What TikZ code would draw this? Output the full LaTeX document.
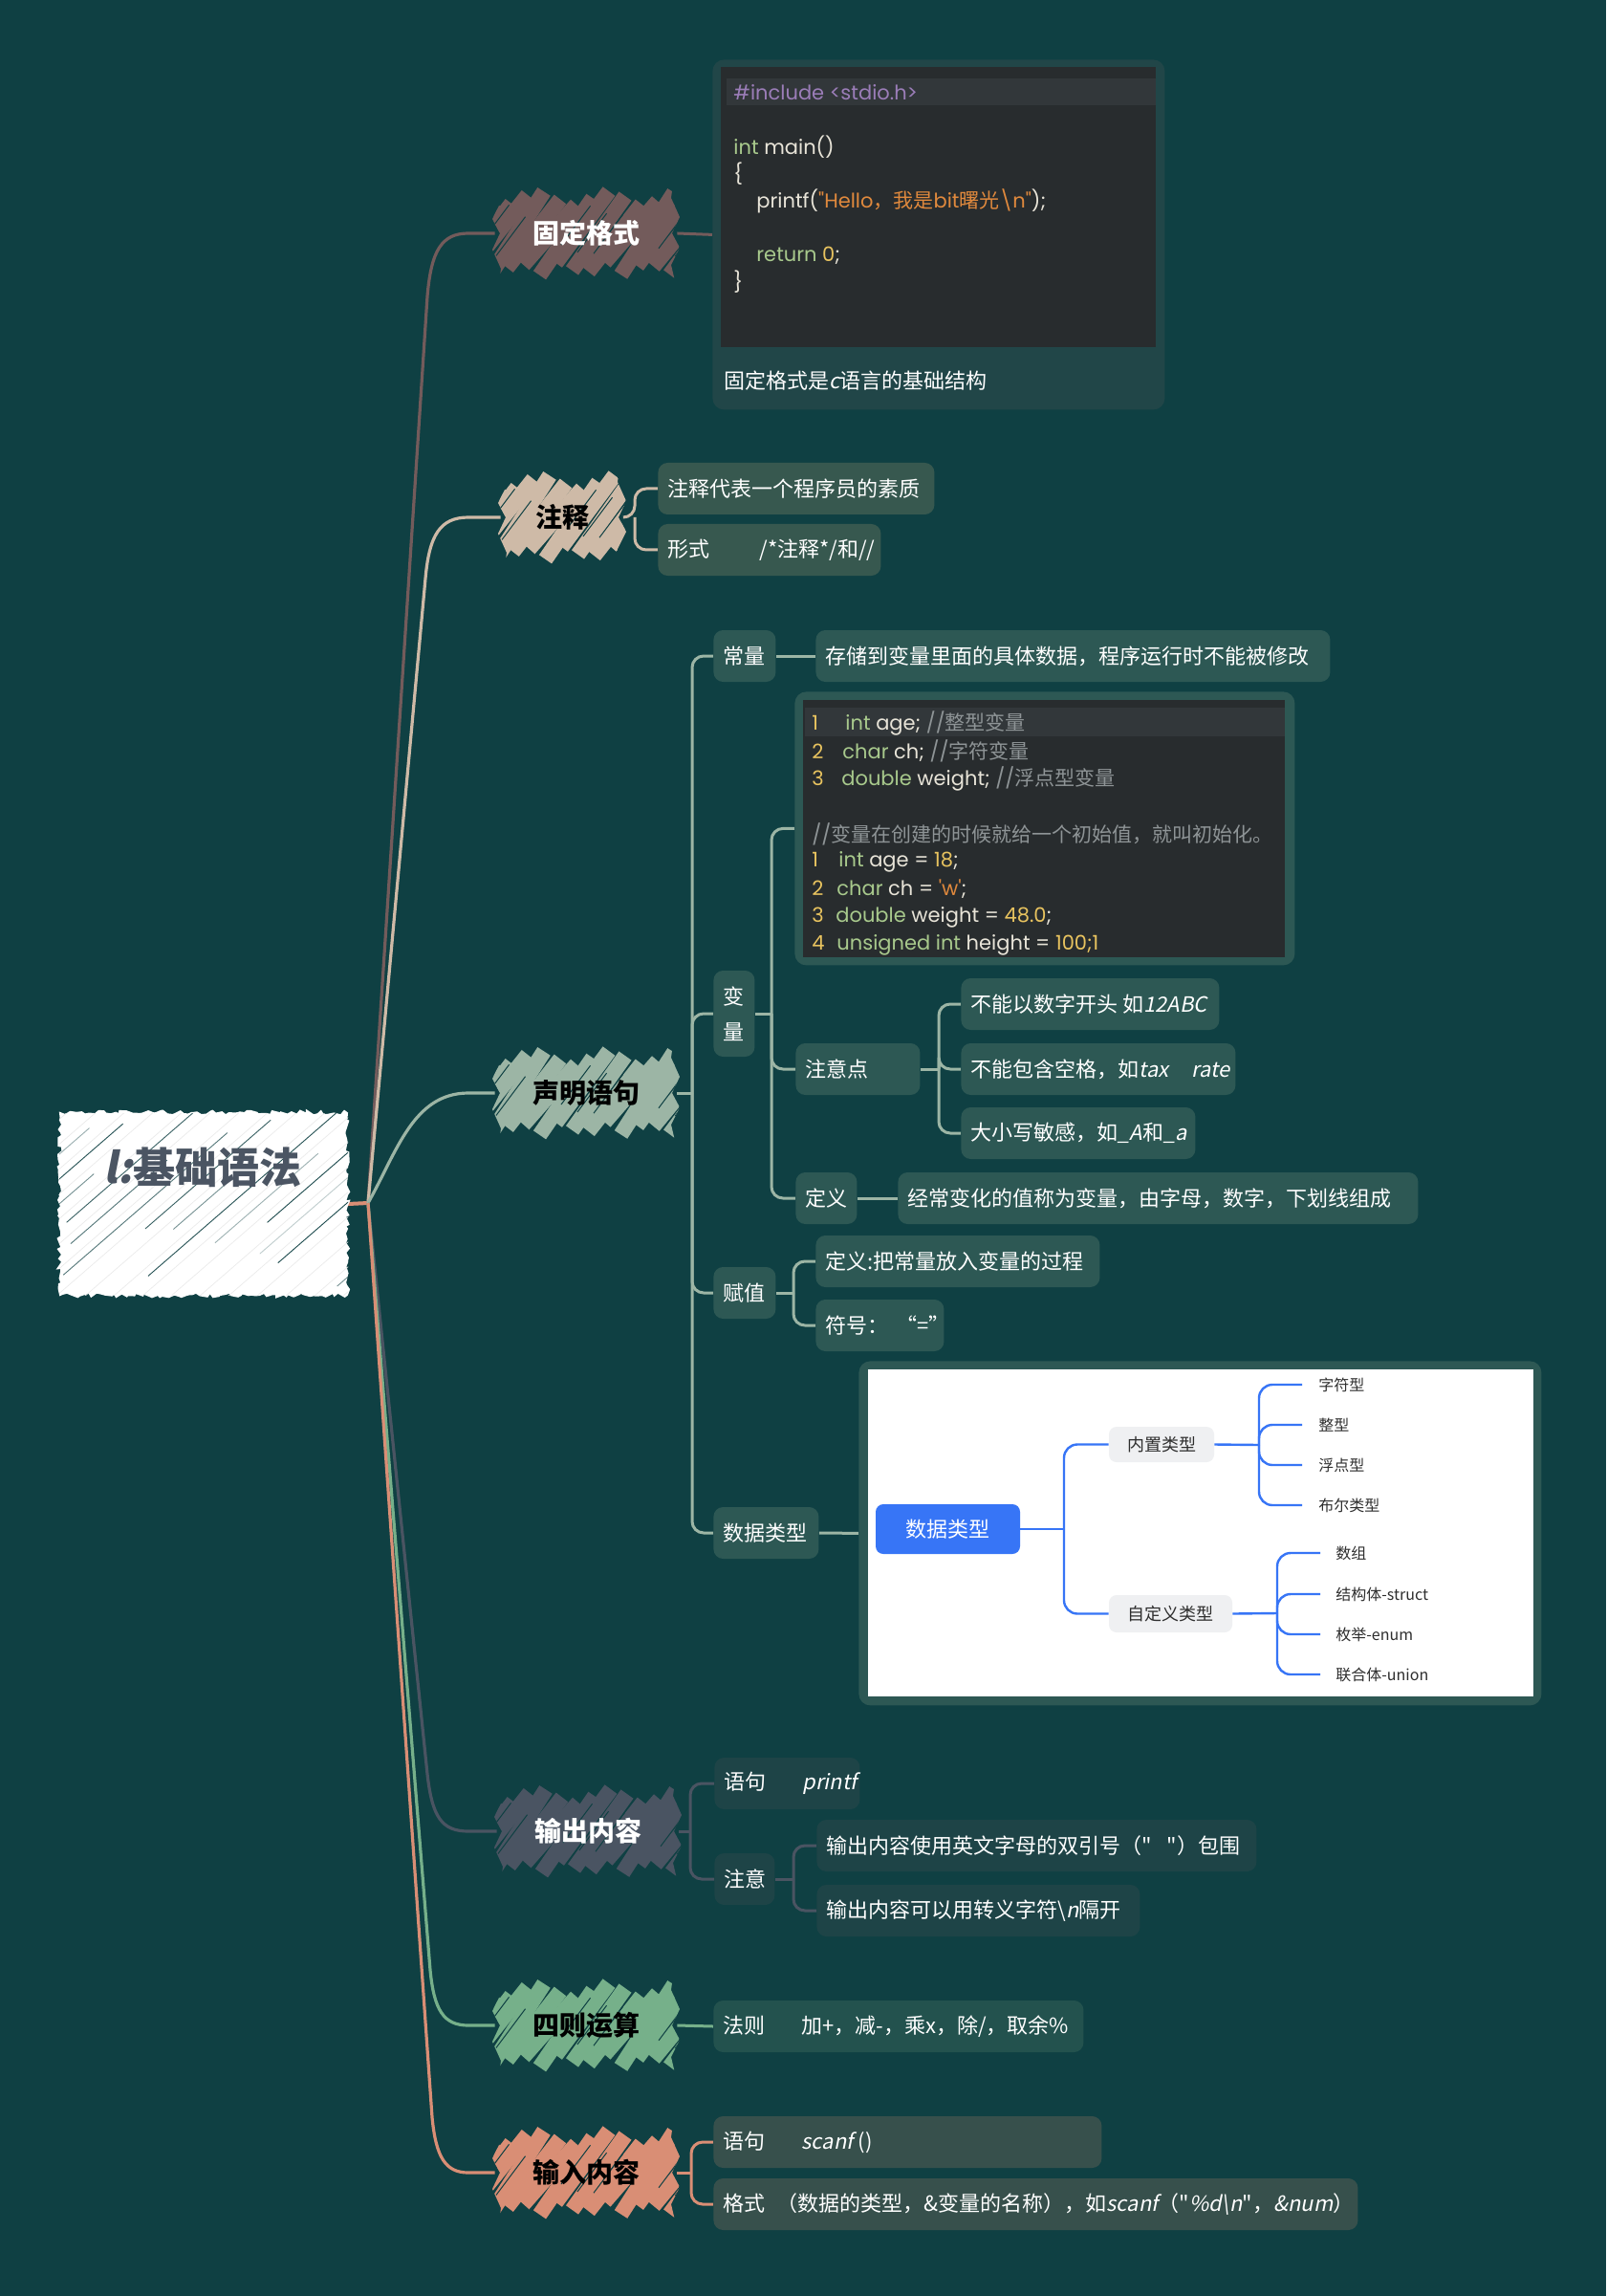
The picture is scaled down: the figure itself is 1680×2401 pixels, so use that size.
\documentclass[tikz,border=0pt]{standalone}
\usepackage{fontspec}
\setmainfont{Noto Sans CJK SC}
\newfontfamily\itfnt[FakeSlant=0.2]{Noto Sans CJK SC}
\newfontfamily\codefnt[Ligatures=TeXOff]{Poppins}
\newfontfamily\cjkfnt{Noto Sans CJK SC}
\newfontfamily\qfnt[Ligatures=TeXOff]{Noto Sans CJK SC}
\usetikzlibrary{decorations.pathmorphing}
\definecolor{bgc}{HTML}{0F4043}
\definecolor{cfix}{HTML}{735B5B}
\definecolor{ccom}{HTML}{CEBAA7}
\definecolor{cdecl}{HTML}{9CB5A5}
\definecolor{cout}{HTML}{4A5462}
\definecolor{carith}{HTML}{76B08A}
\definecolor{cin}{HTML}{D98E75}
\definecolor{bfix}{HTML}{214648}
\definecolor{bcom}{HTML}{37584F}
\definecolor{bdecl}{HTML}{2D5854}
\definecolor{bout}{HTML}{1E4447}
\definecolor{barith}{HTML}{23524E}
\definecolor{bin}{HTML}{37504C}
\definecolor{codebg}{HTML}{282C2E}
\definecolor{codehl}{HTML}{32373A}
\definecolor{cpur}{HTML}{9B7DB8}
\definecolor{cgrn}{HTML}{A8C98C}
\definecolor{cwht}{HTML}{E8E4D8}
\definecolor{cora}{HTML}{E0893D}
\definecolor{cyel}{HTML}{E8C35F}
\definecolor{cgry}{HTML}{8E9496}
\definecolor{cdark}{HTML}{4B5563}
\definecolor{cblue}{HTML}{3775F6}
\definecolor{cgray}{HTML}{EFF0F2}
\definecolor{ctxt}{HTML}{2E2E2E}
\newcommand\padtext[2]{\makebox[#1pt][l]{#2}}
\newcommand\sketchshape[5]{%
\begin{scope}
\clip (#1-#3-2,#2-#4-30) -- (#1-#3+6,#2-#4+4) -- (#1-#3-3,#2-#4+22) -- (#1-#3+5,#2) -- (#1-#3-3,#2+#4-20) -- (#1-#3+6,#2+#4) -- (#1-#3+2,#2+#4+30) -- (#1+#3+2,#2+#4+30) -- (#1+#3-6,#2+#4-4) -- (#1+#3+3,#2+#4-22) -- (#1+#3-5,#2) -- (#1+#3+3,#2-#4+20) -- (#1+#3-6,#2-#4) -- (#1+#3-2,#2-#4-30) -- cycle;
\pgfmathtruncatemacro\nst{(2*#3+1.5*#4)/17}
\foreach \k in {0,...,\nst}{
 \pgfmathsetmacro\xb{#1-#3-1.5*#4+\k*17}
 \pgfmathsetmacro\ya{#2+#4+7*sin(\k*137)}
 \pgfmathsetmacro\yb{#2-#4+7*sin(\k*83+40)}
 \draw[line width=8pt,#5] (\xb,\ya) -- (\xb+1.5*#4,\yb);
 \pgfmathsetmacro\gg{sin(\k*59)}
 \ifdim\gg pt>0pt
 \draw[bgc,line width=0.5pt] (\xb-5.6+0.2*1.5*#4,\ya-4.2-0.2*2*#4) -- (\xb-5.6+0.75*1.5*#4,\ya-4.2-0.75*2*#4);
 \fi
}
\end{scope}}
\pgfdeclarelayer{back}\pgfdeclarelayer{lines}\pgfsetlayers{back,lines,main}
\begin{document}
\begin{tikzpicture}[x=0.5pt,y=-0.5pt,
 box/.style={rounded corners=5pt, inner xsep=5pt, inner ysep=0pt, minimum height=27pt, anchor=west, text=white, font=\fontsize{11}{13}\selectfont},
 bnode/.style={minimum width=95pt, minimum height=44pt, inner sep=0pt, font=\fontsize{14}{16}\selectfont\bfseries},
 sub/.style={line width=1.5pt, rounded corners=6pt},
 trunk/.style={line width=1.6pt},
 codel/.style={anchor=west, inner sep=0pt, text=cwht, font=\codefnt\fontsize{10.5}{12}\selectfont},
 leaf/.style={anchor=west, inner ysep=0pt, text=ctxt, font=\fontsize{8}{10}\selectfont},
 bline/.style={draw=cblue, line width=1.2pt, rounded corners=7pt}]
\useasboundingbox (0,0) rectangle (1680,2401);
\begin{pgfonlayer}{back}
\fill[bgc] (0,0) rectangle (1680,2401);
\end{pgfonlayer}

% ---------- root ----------
\pgfmathsetseed{12}
\node[draw=white, fill=white, line width=1pt, minimum width=150pt, minimum height=95pt, inner sep=0pt, decorate, decoration={random steps, segment length=2pt, amplitude=1.2pt}] (root) at (213,1259) {};
\begin{scope}
\clip (62,1164) rectangle (364,1354);
\foreach \k in {0,...,18}{
 \pgfmathsetmacro\op{0.25+0.7*abs(sin(\k*97))}
 \pgfmathsetmacro\sa{0.05+0.35*abs(sin(\k*53))}
 \pgfmathsetmacro\sb{0.55+0.45*abs(cos(\k*71))}
 \draw[bgc, line width=0.45pt, opacity=\op] (-170+\k*30+\sa*225,1356-\sa*195) -- (-170+\k*30+\sb*225,1356-\sb*195);
 \draw[gray!16, line width=0.35pt] (-152+\k*30,1356) -- ++(225,-195);
}
\end{scope}
\node[text=cdark, font=\fontsize{22}{26}\selectfont\bfseries] (roottext) at (212,1221) {{\itfnt l:}基础语法};
\coordinate (J) at (385,1258);

% ---------- branch nodes ----------
\sketchshape{613}{244}{95}{37}{cfix}
\node[bnode, text=white] (fix) at (613,244) {固定格式};
\sketchshape{588}{541}{64}{37}{ccom}
\node[bnode, minimum width=64pt, text=black] (com) at (588,541) {注释};
\sketchshape{613}{1143}{95}{37}{cdecl}
\node[bnode, text=black] (decl) at (613,1143) {声明语句};
\sketchshape{615}{1915}{95}{37}{cout}
\node[bnode, text=white] (out) at (615,1915) {输出内容};
\sketchshape{613}{2118}{95}{37}{carith}
\node[bnode, text=black] (arith) at (613,2118) {四则运算};
\sketchshape{613}{2272}{95}{37}{cin}
\node[bnode, text=black] (inp) at (613,2272) {输入内容};

% ---------- 固定格式 ----------
\node[fill=bfix, rounded corners=6pt, minimum width=236.5pt, minimum height=183pt, anchor=north west, inner sep=0pt] (fixbox) at (745,62) {};
\fill[codebg] (754,70) rectangle (1209,363);
\fill[codehl] (760,82) rectangle (1209,110);
\node[codel] (k1) at (767,97) {\color{cpur}\#include <stdio.h>};
\node[codel] (k2) at (767,154) {{\color{cgrn}int} main()};
\node[codel] (k3) at (767,182) {\{};
\node[codel] (k4) at (791,210) {printf({\color{cora}"Hello{\cjkfnt ，我是}bit{\cjkfnt 曙光}\textbackslash n"});};
\node[codel] (k5) at (791,267) {{\color{cgrn}return} {\color{cyel}0};};
\node[codel] (k6) at (767,295) {\}};
\node[anchor=west, inner sep=0pt, text=white, font=\fontsize{11}{13}\selectfont] (cap) at (757,398) {固定格式是{\itfnt c}语言的基础结构};

% ---------- 注释 ----------
\node[box, fill=bcom] (c1) at (688,511) {\padtext{134.5}{注释代表一个程序员的素质}};
\node[box, fill=bcom] (c2) at (688,575) {\padtext{106.5}{形式\hspace{26pt}/*注释*/和//}};

% ---------- 声明语句 ----------
\node[box, fill=bdecl] (cl) at (746,686) {\padtext{22.5}{常量}};
\node[box, fill=bdecl] (cld) at (853,686) {\padtext{259}{存储到变量里面的具体数据，程序运行时不能被修改}};
\node[box, fill=bdecl, minimum height=45pt, text width=11.5pt, align=center, font=\fontsize{11}{18.5}\selectfont] (bl) at (746,1060) {变\\量};

\node[fill=bdecl, rounded corners=6pt, minimum width=261.5pt, minimum height=143pt, anchor=north west, inner sep=0pt] (code2) at (831,723) {};
\fill[codebg] (840,732) rectangle (1344,1001);
\fill[codehl] (842,740) rectangle (1344,770);
\node[codel] (v1) at (849,756) {\padtext{17.5}{\color{cyel}1}{\color{cgrn}int} age; {\color{cgry}//{\cjkfnt 整型变量}}};
\node[codel] (v2) at (849,785) {\padtext{16}{\color{cyel}2}{\color{cgrn}char} ch; {\color{cgry}//{\cjkfnt 字符变量}}};
\node[codel] (v3) at (849,814) {\padtext{15.5}{\color{cyel}3}{\color{cgrn}double} weight; {\color{cgry}//{\cjkfnt 浮点型变量}}};
\node[codel] (v4) at (849,872) {\color{cgry}//{\cjkfnt 变量在创建的时候就给一个初始值，就叫初始化。}};
\node[codel] (v5) at (849,901) {\padtext{14}{\color{cyel}1}{\color{cgrn}int} age = {\color{cyel}18};};
\node[codel] (v6) at (849,930) {\padtext{13}{\color{cyel}2}{\color{cgrn}char} ch = {\color{cora}'w'};};
\node[codel] (v7) at (849,959) {\padtext{12.5}{\color{cyel}3}{\color{cgrn}double} weight = {\color{cyel}48.0};};
\node[codel] (v8) at (849,988) {\padtext{13}{\color{cyel}4}{\color{cgrn}unsigned int} height = {\color{cyel}100;1}};

\node[box, fill=bdecl] (zyd) at (832,1118) {\padtext{55}{注意点}};
\node[box, fill=bdecl] (n1) at (1005,1050) {\padtext{125}{不能以数字开头 如{\itfnt 12ABC}}};
\node[box, fill=bdecl] (n2) at (1005,1118) {\padtext{133.5}{不能包含空格，如{\itfnt tax}\hspace{12pt}{\itfnt rate}}};
\node[box, fill=bdecl] (n3) at (1005,1185) {\padtext{112.5}{大小写敏感，如{\itfnt \_A}和{\itfnt \_a}}};
\node[box, fill=bdecl] (dy) at (832,1253) {\padtext{22}{定义}};
\node[box, fill=bdecl] (dyd) at (939,1253) {\padtext{262}{经常变化的值称为变量，由字母，数字，下划线组成}};

\node[box, fill=bdecl] (fzz) at (746,1352) {\padtext{22.5}{赋值}};
\node[box, fill=bdecl] (fz1) at (853,1319) {\padtext{138.5}{定义:把常量放入变量的过程}};
\node[box, fill=bdecl] (fz2) at (853,1386) {\padtext{57}{符号：\hspace{4pt}“=”}};

\node[box, fill=bdecl] (sj) at (746,1603) {\padtext{45}{数据类型}};
\node[fill=bdecl, rounded corners=6pt, minimum width=357pt, minimum height=180pt, anchor=north west, inner sep=0pt] (pic) at (898,1423) {};
\fill[white] (908,1432) rectangle (1604,1774);
\node[fill=cblue, rounded corners=4pt, minimum width=75.5pt, minimum height=26pt, inner sep=0pt, text=white, font=\fontsize{11}{13}\selectfont] (blue) at (991.5,1599) {数据类型};
\node[fill=cgray, rounded corners=4pt, minimum width=55pt, minimum height=18.5pt, inner sep=0pt, text=ctxt, font=\fontsize{9}{11}\selectfont] (nz) at (1215,1510.5) {内置类型};
\node[fill=cgray, rounded corners=4pt, minimum width=64.5pt, minimum height=19.5pt, inner sep=0pt, text=ctxt, font=\fontsize{9}{11}\selectfont] (zd) at (1224.5,1687.5) {自定义类型};
\node[leaf, inner xsep=8.5pt] (p1) at (1362,1448) {字符型};
\node[leaf, inner xsep=8.5pt] (p2) at (1362,1490) {整型};
\node[leaf, inner xsep=8.5pt] (p3) at (1362,1532) {浮点型};
\node[leaf, inner xsep=8.5pt] (p4) at (1362,1574) {布尔类型};
\node[leaf, inner xsep=8pt] (q1) at (1381,1624) {数组};
\node[leaf, inner xsep=8pt] (q2) at (1381,1667) {结构体-struct};
\node[leaf, inner xsep=8pt] (q3) at (1381,1709) {枚举-enum};
\node[leaf, inner xsep=8pt] (q4) at (1381,1751) {联合体-union};

% ---------- 输出内容 ----------
\node[box, fill=bout] (o1) at (747,1865) {\padtext{66}{语句\hspace{19pt}{\itfnt printf}}};
\node[box, fill=bout] (o2) at (747,1965) {\padtext{21.5}{注意}};
\node[box, fill=bout] (o2a) at (854,1930) {\padtext{220}{输出内容使用英文字母的双引号（{\qfnt "}\hspace{8pt}{\qfnt "}）包围}};
\node[box, fill=bout] (o2b) at (854,1998) {\padtext{159}{输出内容可以用转义字符\textbackslash{\itfnt n}隔开}};

% ---------- 四则运算 ----------
\node[box, fill=barith] (a1) at (746,2119) {\padtext{183.5}{法则\hspace{19pt}加+，减-，乘x，除/，取余\%}};

% ---------- 输入内容 ----------
\node[box, fill=bin] (i1) at (746,2240) {\padtext{193}{语句\hspace{19pt}{\itfnt scanf} ()}};
\node[box, fill=bin] (i2) at (746,2305) {\padtext{327}{格式\hspace{6pt}（数据的类型，\&变量的名称），如{\itfnt scanf}（{\qfnt "}{\itfnt \%d\textbackslash n}{\qfnt "}，{\itfnt \&num}）}};

% ---------- connectors ----------
\begin{pgfonlayer}{lines}
\draw[cin, line width=2pt] (root.east) -- (J);
\draw[trunk, cfix] (J) -- (447,310) .. controls (451,262) and (462,244) .. (490,244) -- (fix.west);
\draw[trunk, ccom] (J) -- (445,605) .. controls (449,560) and (460,541) .. (490,541) -- (com.west);
\draw[trunk, cdecl] (J) .. controls (415,1205) and (432,1143) .. (490,1143) -- (decl.west);
\draw[trunk, cout] (J) -- (447,1855) .. controls (452,1900) and (462,1915) .. (490,1915) -- (out.west);
\draw[trunk, carith] (J) -- (450,2060) .. controls (454,2102) and (464,2118) .. (490,2118) -- (arith.west);
\draw[trunk, cin] (J) -- (452,2214) .. controls (456,2256) and (466,2272) .. (490,2272) -- (inp.west);

\draw[sub, cfix] (fix.east) -- (fixbox.west);
\draw[sub, ccom] (com.east) -- (664,541) |- (c1.west);
\draw[sub, ccom] (664,541) |- (c2.west);

\draw[sub, cdecl] (decl.east) -- (724,1143);
\foreach \n in {cl,bl,fzz,sj} \draw[sub, cdecl] (724,1143) |- (\n.west);
\draw[sub, cdecl] (cl.east) -- (cld.west);
\draw[sub, cdecl] (bl.east) -- (807,1060);
\foreach \n in {code2,zyd,dy} \draw[sub, cdecl] (807,1060) |- (\n.west);
\draw[sub, cdecl] (zyd.east) -- (982,1118);
\foreach \n in {n1,n2,n3} \draw[sub, cdecl] (982,1118) |- (\n.west);
\draw[sub, cdecl] (dy.east) -- (dyd.west);
\draw[sub, cdecl] (fzz.east) -- (830,1352);
\foreach \n in {fz1,fz2} \draw[sub, cdecl] (830,1352) |- (\n.west);
\draw[sub, cdecl] (sj.east) -- (pic.west);

\draw[sub, cout] (out.east) -- (722,1915);
\foreach \n in {o1,o2} \draw[sub, cout] (722,1915) |- (\n.west);
\draw[sub, cout] (o2.east) -- (830,1965);
\foreach \n in {o2a,o2b} \draw[sub, cout] (830,1965) |- (\n.west);

\draw[sub, carith] (arith.east) -- (a1.west);
\draw[sub, cin] (inp.east) -- (723,2272);
\foreach \n in {i1,i2} \draw[sub, cin] (723,2272) |- (\n.west);
\end{pgfonlayer}

\draw[bline] (blue.east) -- (1113,1599);
\foreach \n in {nz,zd} \draw[bline] (1113,1599) |- (\n.west);
\draw[bline] (nz.east) -- (1317,1511);
\foreach \n in {p1,p2,p3,p4} \draw[bline] (1317,1511) |- (\n.west);
\draw[bline] (zd.east) -- (1336,1687);
\foreach \n in {q1,q2,q3,q4} \draw[bline] (1336,1687) |- (\n.west);
\end{tikzpicture}
\end{document}
